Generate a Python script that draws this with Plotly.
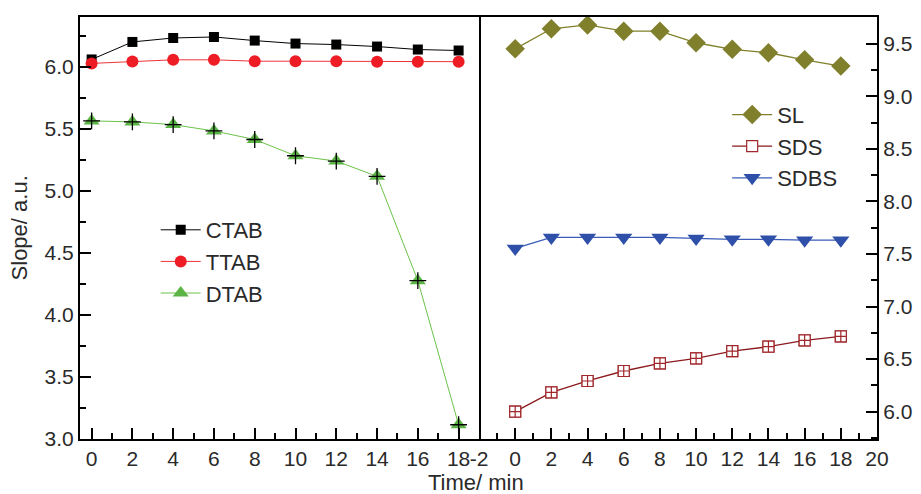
import plotly.graph_objects as go

time = [0, 2, 4, 6, 8, 10, 12, 14, 16, 18]

ctab = [6.058, 6.199, 6.231, 6.239, 6.210, 6.186, 6.178, 6.162, 6.138, 6.130]
ttab = [6.026, 6.042, 6.055, 6.055, 6.044, 6.044, 6.044, 6.039, 6.040, 6.040]
dtab = [5.563, 5.555, 5.533, 5.482, 5.413, 5.282, 5.239, 5.116, 4.276, 3.115]

sl = [9.452, 9.643, 9.680, 9.620, 9.620, 9.510, 9.447, 9.415, 9.348, 9.288]
sds = [6.000, 6.184, 6.292, 6.387, 6.460, 6.507, 6.577, 6.618, 6.679, 6.717]
sdbs = [7.553, 7.658, 7.658, 7.658, 7.658, 7.648, 7.640, 7.640, 7.632, 7.632]

left_xticks = [0, 2, 4, 6, 8, 10, 12, 14, 16, 18]
right_xticks = [-2, 0, 2, 4, 6, 8, 10, 12, 14, 16, 18, 20]
right_xlabels = ["-2", "0", "2", "4", "6", "8", "10", "12", "14", "16", "18", "20"]
left_yticks = [3.0, 3.5, 4.0, 4.5, 5.0, 5.5, 6.0]
right_yticks = [6.0, 6.5, 7.0, 7.5, 8.0, 8.5, 9.0, 9.5]

FONT = "Liberation Sans, Arial, sans-serif"
TXT = "#2a2a2a"

fig = go.Figure()

# Left panel
fig.add_trace(go.Scatter(x=time, y=ctab, name="CTAB", mode="lines+markers",
                         line=dict(color="#000000", width=1),
                         marker=dict(symbol="square", size=10, color="#000000"),
                         xaxis="x", yaxis="y", legend="legend"))
fig.add_trace(go.Scatter(x=time, y=ttab, name="TTAB", mode="lines+markers",
                         line=dict(color="#ee3338", width=1),
                         marker=dict(symbol="circle", size=12, color="#ee1c25"),
                         xaxis="x", yaxis="y", legend="legend"))
fig.add_trace(go.Scatter(x=time, y=dtab, name="DTAB", mode="lines+markers",
                         line=dict(color="#6cc24a", width=1),
                         marker=dict(symbol="triangle-up", size=14, color="#5db446"),
                         xaxis="x", yaxis="y", legend="legend"))
fig.add_trace(go.Scatter(x=time, y=dtab, mode="markers", showlegend=False,
                         marker=dict(symbol="cross-thin", size=12,
                                     line=dict(color="#000000", width=1.3)),
                         xaxis="x", yaxis="y", hoverinfo="skip"))

# Right panel
fig.add_trace(go.Scatter(x=time, y=sl, name="SL", mode="lines+markers",
                         line=dict(color="#80802a", width=1.3),
                         marker=dict(symbol="diamond", size=15, color="#7f7f2c"),
                         xaxis="x2", yaxis="y2", legend="legend2"))
fig.add_trace(go.Scatter(x=time, y=sds, name="SDS", mode="lines+markers",
                         line=dict(color="#8b1a1e", width=1.3),
                         marker=dict(symbol="square", size=11, color="#ffffff",
                                     line=dict(color="#a0282c", width=1.2)),
                         xaxis="x2", yaxis="y2", legend="legend2"))
fig.add_trace(go.Scatter(x=time, y=sds, mode="markers", showlegend=False,
                         marker=dict(symbol="square-cross", size=11, color="#ffffff",
                                     line=dict(color="#a0282c", width=1.2)),
                         xaxis="x2", yaxis="y2", hoverinfo="skip"))
fig.add_trace(go.Scatter(x=time, y=sdbs, name="SDBS", mode="lines+markers",
                         line=dict(color="#3a5bb8", width=1.3),
                         marker=dict(symbol="triangle-down", size=15, color="#2f50a8"),
                         xaxis="x2", yaxis="y2", legend="legend2"))

split = (479 - 80) / 797

def axis_common(mirror=True):
    return dict(showline=True, linecolor="#000000", linewidth=2, mirror=mirror,
                ticks="inside", ticklen=11, tickwidth=2, tickcolor="#000000",
                showgrid=False, zeroline=False,
                tickfont=dict(family=FONT, size=21, color=TXT))

minor_x = dict(dtick=1, tick0=0, ticks="inside", ticklen=6, tickwidth=2,
               tickcolor="#000000")
minor_y = dict(dtick=0.25, tick0=0, ticks="inside", ticklen=6, tickwidth=2,
               tickcolor="#000000")

fig.update_layout(
    width=913, height=486,
    margin=dict(l=72, r=44, t=7, b=55),
    paper_bgcolor="white", plot_bgcolor="white",
    font=dict(family=FONT, color=TXT),
    xaxis=dict(domain=[0, split], range=[-0.57, 19], tickmode="array",
               tickvals=left_xticks, anchor="y", minor=minor_x,
               **axis_common()),
    xaxis2=dict(domain=[split, 1], range=[-2, 20], tickmode="array",
                tickvals=right_xticks, ticktext=right_xlabels, anchor="y2",
                minor=minor_x, **axis_common()),
    yaxis=dict(range=[3.0, 6.4], tickmode="array", tickvals=left_yticks,
               tickformat=".1f", anchor="x", minor=minor_y,
               **axis_common()),
    yaxis2=dict(range=[5.74, 9.755], tickmode="array", tickvals=right_yticks,
                tickformat=".1f", anchor="x2", side="right", minor=minor_y,
                **axis_common(False)),
    legend=dict(x=0.095, y=0.545, xanchor="left", yanchor="top",
                bgcolor="rgba(0,0,0,0)", font=dict(family=FONT, size=22, color=TXT),
                itemwidth=40, tracegroupgap=0),
    legend2=dict(x=0.812, y=0.818, xanchor="left", yanchor="top",
                 bgcolor="rgba(0,0,0,0)", font=dict(family=FONT, size=22, color=TXT),
                 itemwidth=40, tracegroupgap=0),
    annotations=[
        dict(text="Slope/ a.u.", xref="paper", yref="paper", x=-0.076, y=0.5,
             xanchor="center", yanchor="middle", textangle=-90, showarrow=False,
             font=dict(family=FONT, size=22, color=TXT)),
        dict(text="Time/ min", xref="paper", yref="paper", x=0.497, y=-0.102,
             xanchor="center", yanchor="middle", showarrow=False,
             font=dict(family=FONT, size=22, color=TXT)),
    ],
    showlegend=True,
)

fig.write_html("out.html")
